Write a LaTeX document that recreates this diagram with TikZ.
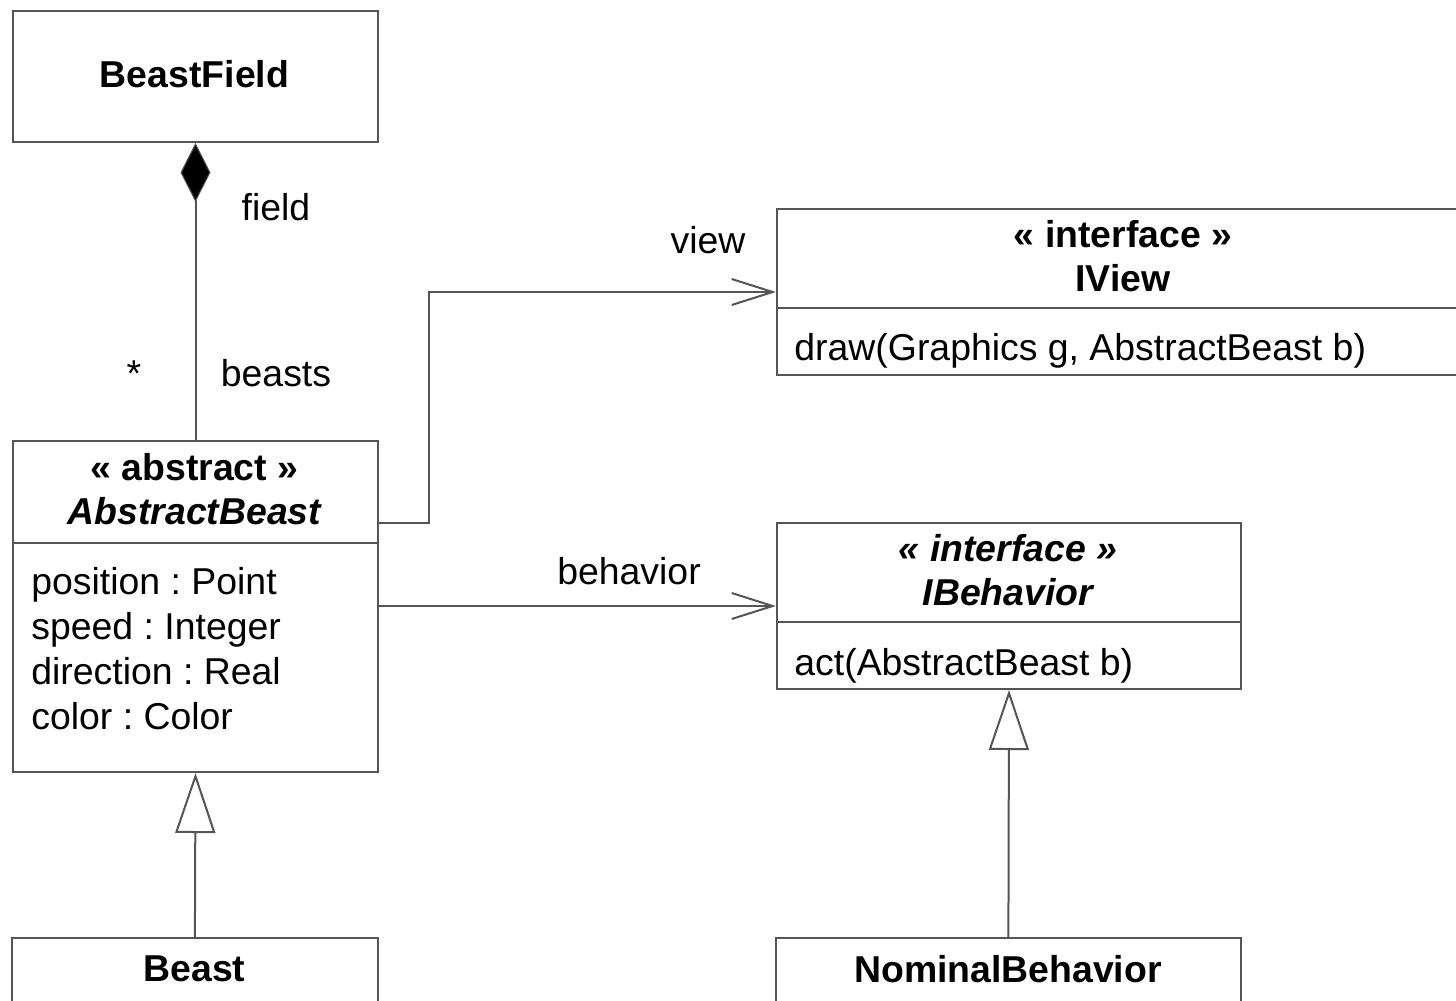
\documentclass[tikz,border=0pt]{standalone}
\usepackage{fontspec}
\setmainfont{Liberation Sans}
\usetikzlibrary{arrows.meta,calc}
\definecolor{ln}{RGB}{85,85,85}
\frenchspacing
\begin{document}
\begin{tikzpicture}[x=0.5pt,y=-0.5pt,
  every node/.style={font=\fontsize{18.7}{22.5}\selectfont\frenchspacing, text=black},
  line/.style={draw=ln, line width=1pt},
  box/.style={line, rectangle, anchor=north west, inner sep=0pt, align=center},
  nobox/.style={rectangle, anchor=north west, inner sep=0pt, align=center},
  lbl/.style={inner sep=0pt},
  ttl/.style={inner sep=0pt, font=\fontsize{18.7}{22.5}\selectfont\bfseries},
  ttli/.style={inner sep=0pt, font=\fontsize{18.7}{22.5}\selectfont\bfseries\itshape},
  comp/.style={line, {Diamond[length=29.5pt,width=15pt,fill=black,line width=0.5pt]}-},
  nav/.style={line, -{Straight Barb[length=20.5pt,width=13pt,line width=1pt]}},
  gen/.style={line, -{Triangle[open,length=30pt,width=20pt,fill=white,line width=1pt]}}
]
\useasboundingbox (0,0) rectangle (1456,1001);
\clip (0,0) rectangle (1456,1001);

% BeastField
\node[box, minimum width=182.5pt, minimum height=65.5pt] (bf) at (12,10) {};
\node[ttl] (bft) at (194.5,74) {BeastField};

% AbstractBeast
\node[box, minimum width=182.5pt, minimum height=51pt] (abh) at (12,440) {};
\node[ttl] (abs) at (194.5,467) {« abstract »};
\node[ttli] (abn) at (194.5,511) {AbstractBeast};
\node[box, minimum width=182.5pt, minimum height=114.5pt] (abb) at (12,542) {};
\node[anchor=west, align=left, inner sep=0pt] (abattr) at (31,648.5)
  {position : Point\\speed : Integer\\direction : Real\\color : Color};

% Beast (cut at bottom)
\node[nobox, minimum width=182.5pt, minimum height=31pt] (beast) at (12,938) {};
\node[ttl] (beastt) at (194.5,969) {Beast};
\draw[line] ([yshift=-20pt]beast.south west) -- (beast.north west) -- (beast.north east) -- ([yshift=-20pt]beast.south east);

% IView (cut at right)
\node[box, minimum width=347pt, minimum height=49.5pt] (ivh) at (776,208) {};
\node[ttl] (ivs) at (1123,234) {« interface »};
\node[ttl] (ivn) at (1123,278) {IView};
\node[box, minimum width=347pt, minimum height=33.5pt] (ivb) at (776,307) {};
\node[anchor=west, inner sep=0pt] (ivm) at (794,351) {draw(Graphics g, AbstractBeast b)};

% IBehavior
\node[box, minimum width=232pt, minimum height=49.5pt] (ibh) at (776,522) {};
\node[ttli] (ibs) at (1008,548) {« interface »};
\node[ttli] (ibn) at (1008,592) {IBehavior};
\node[box, minimum width=232pt, minimum height=33.5pt] (ibb) at (776,621) {};
\node[anchor=west, inner sep=0pt] (ibm) at (794,666) {act(AbstractBeast b)};

% NominalBehavior (cut at bottom)
\node[nobox, minimum width=232pt, minimum height=31pt] (nb) at (776,938) {};
\node[ttl] (nbt) at (1008,969) {NominalBehavior};
\draw[line] ([yshift=-20pt]nb.south west) -- (nb.north west) -- (nb.north east) -- ([yshift=-20pt]nb.south east);

% Connectors
\draw[comp] (bf.south) -- (abh.north);
\draw[nav] ([yshift=10.5pt]abh.south east) -- ++(25pt,0) |- ([yshift=-16.75pt]ivh.west);
\draw[nav] ([yshift=25.75pt]abb.east) -- ([yshift=25.75pt]abb.east -| ibh.west);
\draw[gen] (beast.north) -- (abb.south);
\draw[gen] (nb.north) -- (ibb.south);

% Labels
\node[lbl] (lfield) at (276,207) {field};
\node[lbl] (lstar) at (134,374) {*};
\node[lbl] (lbeasts) at (276,373) {beasts};
\node[lbl] (lview) at (708,240) {view};
\node[lbl] (lbeh) at (629,571) {behavior};
\end{tikzpicture}
\end{document}
